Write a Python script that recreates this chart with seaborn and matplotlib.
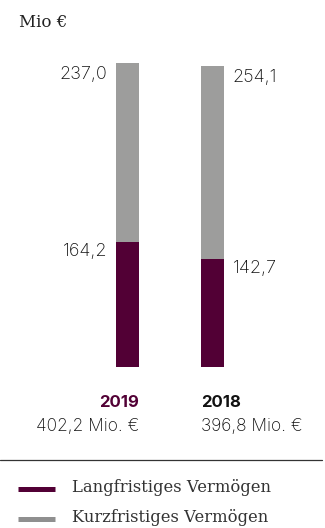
import matplotlib
matplotlib.use("Agg")
import matplotlib.pyplot as plt
import matplotlib.transforms as mtransforms
from matplotlib.lines import Line2D
import seaborn as sns
import pandas as pd

# ---- data ----
years = ["2019", "2018"]
langfristig = [164.2, 142.7]
kurzfristig = [237.0, 254.1]
totals_label = ["402,2 Mio. €", "396,8 Mio. €"]
long_labels = ["164,2", "142,7"]
short_labels = ["237,0", "254,1"]
series_names = ["Langfristiges Vermögen", "Kurzfristiges Vermögen"]
unit_label = "Mio €"

PURPLE = "#520035"
GREY = "#9d9d9c"
LEG_GREY = "#8f8f8f"
TXT = "#111111"

sns.set_theme(style="white")
plt.rcParams["font.family"] = ["Inter", "Roboto", "DejaVu Sans"]

W, H = 325, 528
fig = plt.figure(figsize=(W / 100, H / 100), dpi=100)

# axes: bottom at y=367px from top, top at y=40px
bottom_px, top_px = 367, 40
ax = fig.add_axes([0, (H - bottom_px) / H, 1, (bottom_px - top_px) / H])

df = pd.DataFrame({"year": years,
                   "long": langfristig,
                   "total": [a + b for a, b in zip(langfristig, kurzfristig)]})

bw = 23 / 85
sns.barplot(data=df, x="year", y="total", color=GREY, width=bw, ax=ax,
            saturation=1, linewidth=0)
sns.barplot(data=df, x="year", y="long", color=PURPLE, width=bw, ax=ax,
            saturation=1, linewidth=0)

scale = 305 / 402.2  # px per unit
ax.set_xlim(-127.5 / 85, (W - 127.5) / 85)
ax.set_ylim(0, (bottom_px - top_px) / scale)
ax.axis("off")

fs_num = 13
off = 0.1
for i in range(len(years)):
    tot = df["total"][i]
    lng = langfristig[i]
    if i == 0:
        x = i - bw / 2 - off
        ha = "right"
    else:
        x = i + bw / 2 + off
        ha = "left"
    ax.text(x, tot - 4, short_labels[i], ha=ha, va="top", fontsize=fs_num,
            color=TXT, fontweight="light")
    ax.text(x, lng - 1, long_labels[i], ha=ha, va="top", fontsize=fs_num,
            color=TXT, fontweight="light")

# year labels / totals below
trans = mtransforms.blended_transform_factory(ax.transData, fig.transFigure)
ax.text(0 + bw / 2, 1 - 407 / H, years[0], ha="right", va="baseline",
        fontsize=12, fontweight="bold", color=PURPLE, transform=trans)
ax.text(1 - bw / 2, 1 - 407 / H, years[1], ha="left", va="baseline",
        fontsize=12, fontweight="bold", color="#111111", transform=trans)
ax.text(0 + bw / 2, 1 - 431 / H, totals_label[0], ha="right", va="baseline",
        fontsize=12.5, color=TXT, fontweight="light", transform=trans)
ax.text(1 - bw / 2, 1 - 431 / H, totals_label[1], ha="left", va="baseline",
        fontsize=12.5, color=TXT, fontweight="light", transform=trans)

# unit label
fig.text(19 / W, 1 - 27 / H, unit_label, ha="left", va="baseline",
         fontsize=12, family="DejaVu Serif", color="#222222")

# separator line
fig.add_artist(Line2D([0, 322 / W], [1 - 459.5 / H, 1 - 459.5 / H],
                      color="#333333", linewidth=0.9))

# legend
for name, col, yc in [(series_names[0], PURPLE, 489), (series_names[1], LEG_GREY, 519)]:
    fig.add_artist(Line2D([18 / W, 55 / W], [1 - yc / H, 1 - yc / H],
                          color=col, linewidth=3.6, solid_capstyle="butt"))
    fig.text(72 / W, 1 - (yc + 3.5) / H, name, ha="left", va="baseline",
             fontsize=11.8, family="DejaVu Serif", color="#333333")

fig.savefig("out.png", dpi=100)
